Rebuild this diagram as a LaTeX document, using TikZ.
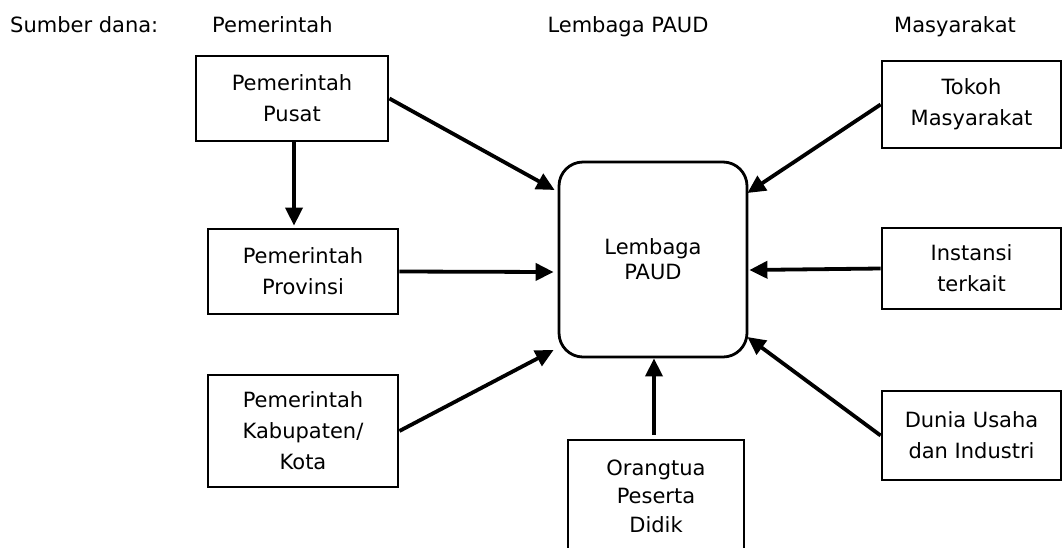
\documentclass[tikz,border=0pt]{standalone}
\usepackage{fontspec}
\setmainfont{DejaVu Sans}
\usetikzlibrary{arrows.meta,calc}
\begin{document}
\begin{tikzpicture}[x=1pt,y=-1pt,
  box/.style={draw,line width=2.8pt,inner sep=0pt,align=center,font=\fontsize{21}{31}\selectfont},
  arr/.style={line width=3.8pt,-{Triangle[length=18pt,width=17pt]}},
  hdr/.style={font=\fontsize{21}{24}\selectfont,inner sep=0pt}]
\useasboundingbox (0,0) rectangle (1064,547);
\clip (0,0) rectangle (1064,547);
% headers
\node[hdr,anchor=base west] (h0) at (10,32) {Sumber dana:};
\node[hdr,anchor=base west] (h1) at (212,32) {Pemerintah};
\node[hdr,anchor=base] (h2) at (628,32) {Lembaga PAUD};
\node[hdr,anchor=base] (h3) at (955,32) {Masyarakat};
% boxes
\node[box,minimum width=192pt,minimum height=85pt] (pusat) at (292,98.5) {Pemerintah\\Pusat};
\node[box,minimum width=190pt,minimum height=85pt] (prov) at (303,271.5) {Pemerintah\\Provinsi};
\node[box,minimum width=190pt,minimum height=112pt] (kab) at (303,431) {Pemerintah\\Kabupaten/\\Kota};
\node[box,rounded corners=24pt,minimum width=188pt,minimum height=195pt,font=\fontsize{21}{25}\selectfont] (paud) at (653,259.5) {Lembaga\\PAUD};
\node[box,minimum width=176pt,minimum height=112pt,font=\fontsize{21}{28.5}\selectfont] (ortu) at (656,496) {Orangtua\\Peserta\\Didik};
\node[box,minimum width=179pt,minimum height=87pt] (tokoh) at (971.5,104.5) {Tokoh\\Masyarakat};
\node[box,minimum width=179pt,minimum height=81pt] (inst) at (971.5,268.5) {Instansi\\terkait};
\node[box,minimum width=179pt,minimum height=89pt] (dunia) at (971.5,435.5) {Dunia Usaha\\dan Industri};
% connectors
\draw[arr] ([xshift=2pt]pusat.south) -- ([xshift=2pt,yshift=2pt]pusat.south |- prov.north);
\draw[arr] (pusat.east) -- ([xshift=-3pt,yshift=69.5pt]paud.west);
\draw[arr] (prov.east) -- ([xshift=-4pt,yshift=-12.5pt]paud.west);
\draw[arr] (kab.east) -- ([xshift=-4pt,yshift=-90.5pt]paud.west);
\draw[arr] ([xshift=-2pt,yshift=4pt]ortu.north) -- ([xshift=-2pt]ortu.north |- paud.south);
\draw[arr] (tokoh.west) -- ([xshift=-1pt,yshift=66.5pt]paud.east);
\draw[arr] (inst.west) -- ([xshift=1pt,yshift=-10.5pt]paud.east);
\draw[arr] (dunia.west) -- ([xshift=-1pt,yshift=-77.5pt]paud.east);
\end{tikzpicture}
\end{document}
